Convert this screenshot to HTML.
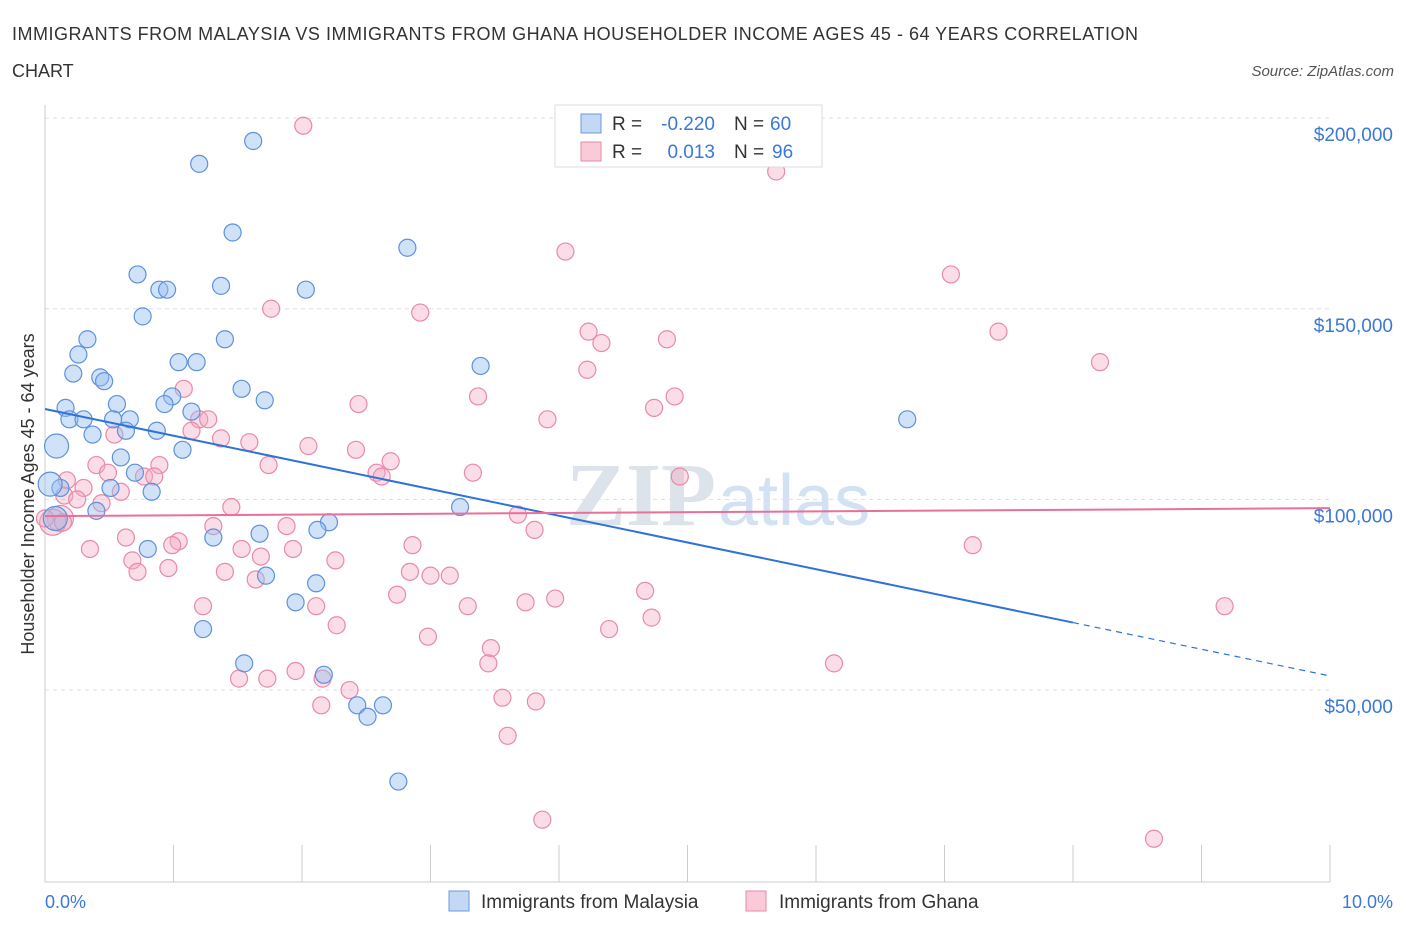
<!DOCTYPE html>
<html><head><meta charset="utf-8"><style>
body{margin:0;background:#fff;font-family:"Liberation Sans",sans-serif;}
svg{display:block}
</style></head><body>
<svg id="c" width="1406" height="930" xmlns="http://www.w3.org/2000/svg">
<text x="12" y="40" font-size="18" fill="#333" textLength="1126">IMMIGRANTS FROM MALAYSIA VS IMMIGRANTS FROM GHANA HOUSEHOLDER INCOME AGES 45 - 64 YEARS CORRELATION</text>
<text x="12" y="77" font-size="18" fill="#333">CHART</text>
<text x="1394" y="76" font-size="15" fill="#555" font-style="italic" text-anchor="end">Source: ZipAtlas.com</text>
<text x="716" y="525" font-size="90" fill="#dde3ea" text-anchor="end" font-family="Liberation Serif" font-weight="bold">ZIP</text>
<text x="718" y="525" font-size="72" fill="#d3e2f3">atlas</text>
<g id="grid"></g><g id="pts"></g><g id="lines"></g>
<text transform="translate(34,494) rotate(-90)" font-size="18" fill="#333" text-anchor="middle">Householder Income Ages 45 - 64 years</text>
<text x="45" y="908" font-size="18" fill="#3b78d8">0.0%</text>
<text x="1393" y="908" font-size="18" fill="#3b78d8" text-anchor="end">10.0%</text>
<g>
<rect x="555" y="105" width="267" height="62" fill="#fff" stroke="#ddd"/>
<rect x="581" y="114" width="20" height="19" fill="#c3d8f5" stroke="#6a9ae0"/>
<rect x="581" y="142" width="20" height="19" fill="#f9cbd9" stroke="#e88aa8"/>
<text x="612" y="130" font-size="19" fill="#333">R =</text>
<text x="715" y="130" font-size="19" fill="#3b78d8" text-anchor="end">-0.220</text>
<text x="734" y="130" font-size="19" fill="#333">N =</text>
<text x="770" y="130" font-size="19" fill="#3b78d8">60</text>
<text x="612" y="158" font-size="19" fill="#333">R =</text>
<text x="715" y="158" font-size="19" fill="#3b78d8" text-anchor="end">0.013</text>
<text x="734" y="158" font-size="19" fill="#333">N =</text>
<text x="772" y="158" font-size="19" fill="#3b78d8">96</text>
</g>
<g>
<rect x="449" y="891" width="20" height="20" fill="#c3d8f5" stroke="#6a9ae0"/>
<text x="481" y="908" font-size="19" fill="#333">Immigrants from Malaysia</text>
<rect x="746" y="891" width="20" height="20" fill="#f9cbd9" stroke="#e88aa8"/>
<text x="779" y="908" font-size="19" fill="#333">Immigrants from Ghana</text>
</g>
</svg>
<script>
const yTicks=[50000,100000,150000,200000];
const yTickLabels=["$50,000","$100,000","$150,000","$200,000"];
const xTicks=[0,1,2,3,4,5,6,7,8,9,10];
const blueX=[1.62,1.2,1.46,2.82,0.72,0.89,0.95,1.37,2.03,0.76,0.33,1.4,0.26,1.04,1.18,3.39,0.22,0.43,0.46,1.53,0.99,1.71,0.16,0.56,0.93,1.14,0.66,0.53,0.19,0.30,0.63,0.87,0.37,6.71,0.09,1.07,0.59,0.70,0.12,0.51,0.83,3.23,0.40,2.21,2.12,1.67,1.31,0.80,1.72,2.11,1.95,1.23,1.55,2.17,2.43,2.63,2.51,2.75,0.08,0.04];
const blueY=[194,188,170,166,159,155,155,156,155,148,142,142,138,136,136,135,133,132,131,129,127,126,124,125,125,123,121,121,121,121,118,118,117,121,114,113,111,107,103,103,102,98,97,94,92,91,90,87,80,78,73,66,57,54,46,46,43,26,95,104];
const pinkX=[2.01,5.69,4.05,7.05,1.76,2.92,4.23,7.42,4.33,4.84,8.21,4.22,1.08,3.37,2.44,4.74,4.9,3.91,1.2,1.27,1.14,1.37,0.54,1.59,2.05,2.42,2.69,0.40,1.74,0.89,0.49,3.33,2.58,2.62,0.77,0.85,4.94,0.17,0.30,0.59,0.15,0.25,0.44,1.45,3.68,3.81,0.63,1.31,1.88,1.04,0.99,2.86,7.22,0.35,1.93,1.53,0.68,1.68,2.26,0.96,0.72,1.4,2.84,3.0,1.64,3.15,4.67,2.74,3.97,3.74,3.29,1.23,9.18,2.11,4.72,2.27,4.39,2.98,3.47,3.45,6.14,1.95,1.73,1.51,2.16,2.37,3.56,3.82,2.15,3.6,3.87,8.63,0.12,0.06,0.0,0.14];
const pinkY=[198,186,165,159,150,149,144,144,141,142,136,134,129,127,125,124,127,121,121,121,118,116,117,115,114,113,110,109,109,109,107,107,107,106,106,106,106,105,103,102,101,100,99,98,96,92,90,93,93,89,88,88,88,87,87,87,84,85,84,82,81,81,81,80,79,80,76,75,74,73,72,72,72,72,69,67,66,64,61,57,57,55,53,53,53,50,48,47,46,38,16,11,95,94,95,94];
const blueBig=[34,58,59];const pinkBig=[92,93];
const X=v=>45+v*128.5, Y=v=>880.7-v*0.003813;
const ns="http://www.w3.org/2000/svg";
function mk(t,a,p){const e=document.createElementNS(ns,t);for(const k in a)e.setAttribute(k,a[k]);p.appendChild(e);return e;}
const g=document.getElementById('grid');
yTicks.forEach((v,i)=>{
 const l=mk('line',{x1:45,x2:1330,y1:Y(v),y2:Y(v),stroke:'#dde',"stroke-dasharray":'4,4'},g);
 
 
 const t=mk('text',{x:1393,y:Y(v)+23,"font-size":19,fill:'#3b78d8',"text-anchor":'end'},g);
 t.textContent=yTickLabels[i];
 
 
});
const ax=mk('line',{x1:45,x2:45,y1:105,y2:882,stroke:'#ccc'},g);


const bx=mk('line',{x1:45,x2:1330,y1:882,y2:882,stroke:'#ccc'},g);


xTicks.forEach(v=>{const t=mk('line',{x1:X(v),x2:X(v),y1:845,y2:882,stroke:'#ccc'},g);
 
 });
const p=document.getElementById('pts');
pinkX.forEach((v,i)=>{const c=mk('circle',{cx:X(v),cy:Y(pinkY[i]*1000),r:pinkBig.includes(i)?13:8.5,fill:'rgba(244,170,195,0.4)',stroke:'#e88aa8',"stroke-width":1.2},p);
 
 });
blueX.forEach((v,i)=>{const c=mk('circle',{cx:X(v),cy:Y(blueY[i]*1000),r:blueBig.includes(i)?12:8.5,fill:'rgba(150,190,240,0.45)',stroke:'#5f91dc',"stroke-width":1.2},p);
 
 });
const L=document.getElementById('lines');
const b0=123700,b1=-7000,p0=95600,p1=210;
let e=mk('line',{x1:X(0),y1:Y(b0),x2:X(8),y2:Y(b0+8*b1),stroke:'#2f72d8',"stroke-width":2},L);


e=mk('line',{x1:X(8),y1:Y(b0+8*b1),x2:X(10),y2:Y(b0+10*b1),stroke:'#2f72d8',"stroke-width":1.2,"stroke-dasharray":'6,5'},L);


e=mk('line',{x1:X(0),y1:Y(p0),x2:X(10),y2:Y(p0+10*p1),stroke:'#e8709a',"stroke-width":2},L);


</script>
</body></html>
